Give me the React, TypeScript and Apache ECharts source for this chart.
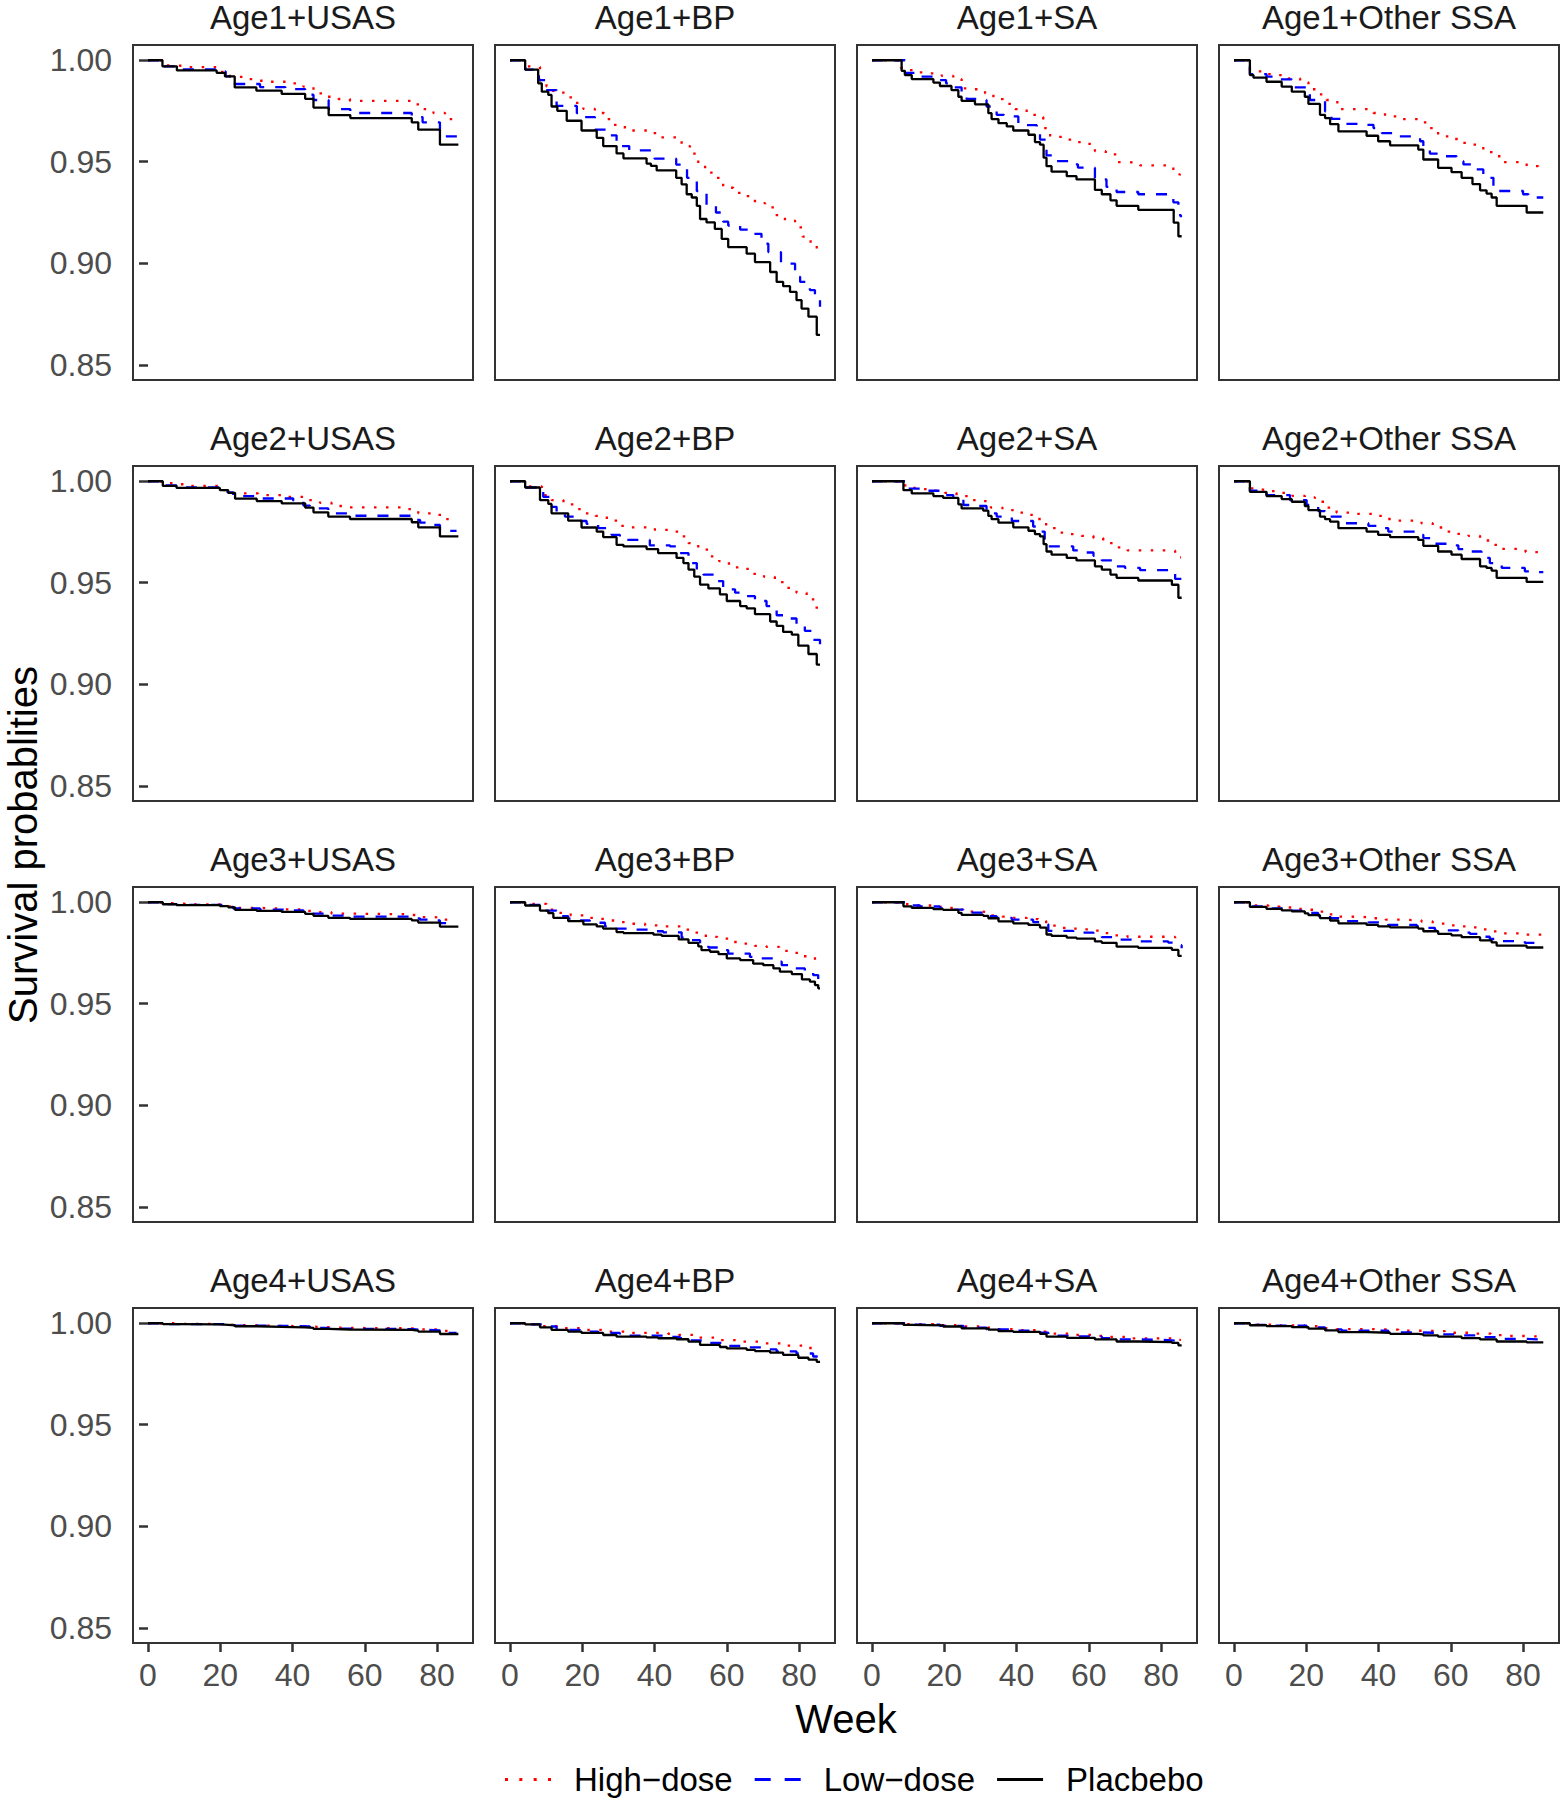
import React, { useEffect, useRef } from "react";
import * as echarts from "echarts";

type Pt = [number, number];

const ages = ["Age1", "Age2", "Age3", "Age4"];
const regions = ["USAS", "BP", "SA", "Other SSA"];
const treatments = ["High−dose", "Low−dose", "Placbebo"];
const weekTicks = [0, 20, 40, 60, 80];
const probTicks = [0.85, 0.9, 0.95, 1.0];

// ---------- Age1 ----------
const age1_USAS_high: Pt[] = [[0,1],[4,0.9975],[6.5,0.9972],[10.2,0.9966],[19.9,0.9943],[22.7,0.9918],[26.4,0.9907],[29.6,0.9899],[32.8,0.9894],[39.8,0.9886],[43,0.987],[45.8,0.9837],[49,0.982],[52.7,0.9809],[55.9,0.98],[73,0.9783],[76.2,0.9759],[79,0.974],[82.2,0.971],[85.5,0.971]];
const age1_USAS_low: Pt[] = [[0,1],[4,0.997],[8,0.9955],[19,0.9945],[21.5,0.992],[24,0.9883],[31,0.9868],[38,0.9858],[43.5,0.983],[45.8,0.9804],[50,0.9759],[56,0.974],[73,0.972],[76,0.9694],[80.8,0.9625],[85.5,0.9625]];
const age1_USAS_placebo: Pt[] = [[0,1],[4,0.997],[8,0.995],[19,0.9938],[21.3,0.992],[24,0.9866],[30,0.985],[37,0.9834],[43.5,0.981],[45.8,0.9767],[50,0.973],[56,0.9715],[73,0.9694],[74.8,0.9658],[80.8,0.9584],[85.9,0.9584]];

const age1_BP_high: Pt[] = [[0,1],[4.2,0.997],[6,0.9967],[8.3,0.99],[10.1,0.987],[12,0.984],[15.2,0.9817],[17.8,0.979],[20.3,0.976],[23.5,0.974],[26,0.971],[28.6,0.9682],[31.8,0.9654],[38.7,0.9641],[41.9,0.962],[47.5,0.9577],[49.8,0.954],[52.1,0.9487],[54,0.9446],[56.7,0.9421],[59,0.9372],[61.8,0.9347],[65,0.9331],[67.8,0.9296],[70.6,0.9275],[73.3,0.9237],[76.1,0.921],[78.9,0.9177],[81,0.9131],[83.2,0.9095],[84.9,0.9046],[85.5,0.9046]];
const age1_BP_low: Pt[] = [[0,1],[4.2,0.9954],[8,0.9902],[10,0.9853],[12.9,0.9775],[18.5,0.9739],[19.4,0.972],[23.5,0.9658],[27,0.963],[29.5,0.9577],[33,0.9556],[40,0.9515],[46,0.9486],[49,0.9421],[51.7,0.9356],[54.4,0.9286],[57,0.925],[59,0.9205],[60.4,0.9186],[63.7,0.9166],[65.9,0.9145],[69.6,0.9096],[71.5,0.9055],[75,0.8998],[78.9,0.8933],[80.3,0.8908],[83,0.8868],[84.4,0.8835],[85.8,0.8786]];
const age1_BP_placebo: Pt[] = [[0,1],[4.2,0.9954],[7.8,0.9886],[8.8,0.9845],[10.6,0.9829],[11.5,0.9772],[13.1,0.9751],[15.7,0.9702],[19.8,0.9654],[24,0.9618],[25.8,0.9577],[29.5,0.9541],[31.4,0.9517],[37.8,0.9491],[39,0.948],[40.6,0.9457],[46,0.9421],[47.5,0.9389],[48.9,0.934],[50.3,0.9324],[51.7,0.9283],[52.6,0.9218],[54.4,0.9201],[56.7,0.9169],[58.6,0.912],[60.4,0.9079],[65.5,0.9047],[67.8,0.9006],[72,0.8957],[73.8,0.8908],[75.6,0.8887],[77.5,0.8859],[79.3,0.8818],[80.7,0.8777],[82.6,0.8737],[84.9,0.8647],[85.8,0.8647]];

const age1_SA_high: Pt[] = [[0,1],[8,0.9962],[9.1,0.9951],[12.4,0.994],[16,0.9935],[19.3,0.9923],[22.5,0.9907],[24.8,0.9861],[28,0.9857],[31.3,0.9837],[33.6,0.9808],[36.3,0.9785],[39.6,0.9759],[42.8,0.9731],[45.8,0.972],[47.4,0.9666],[49.3,0.9622],[53,0.9609],[56.2,0.9597],[59.4,0.9588],[61.7,0.9552],[64.7,0.9536],[67.7,0.9498],[70.9,0.9495],[74.2,0.9482],[81.1,0.9482],[83.4,0.9438],[85.2,0.9392]];
const age1_SA_low: Pt[] = [[0,1],[9.1,0.9938],[12.4,0.9919],[18.8,0.9902],[20.5,0.9886],[22.5,0.9866],[24.8,0.9829],[26.2,0.9809],[29.9,0.9804],[31.7,0.9772],[34.5,0.9731],[36.5,0.9723],[40.5,0.969],[42,0.968],[45.6,0.9641],[46.5,0.9609],[48.3,0.9531],[50.2,0.9503],[55.7,0.9487],[57,0.9471],[61.7,0.9413],[64.9,0.9376],[67.7,0.9351],[73.7,0.934],[82.5,0.9335],[83.4,0.93],[84.8,0.9237],[85.5,0.9226]];
const age1_SA_placebo: Pt[] = [[0,1],[8.2,0.9948],[9.1,0.9927],[11,0.9907],[17,0.989],[18.8,0.9873],[22,0.9853],[23.9,0.982],[24.8,0.98],[28.5,0.9783],[32.2,0.9739],[33.1,0.971],[35,0.969],[37.3,0.9674],[39.1,0.9654],[43.3,0.9633],[45.1,0.9597],[46.5,0.9584],[47.5,0.952],[48.3,0.9478],[49.7,0.9451],[53.9,0.9429],[56.6,0.9413],[61.7,0.9361],[63.6,0.934],[66,0.931],[67.7,0.9283],[73.7,0.9263],[82,0.9263],[83.5,0.92],[84.8,0.9133],[85.7,0.9133]];

const age1_OSSA_high: Pt[] = [[0,1],[4.4,0.9945],[8.6,0.9932],[11.8,0.9927],[15,0.991],[18.3,0.9891],[20.6,0.9857],[23.3,0.9832],[25.6,0.9804],[28.6,0.9759],[38.6,0.974],[41.8,0.9723],[45,0.971],[51.5,0.9694],[53.8,0.9666],[56.5,0.9625],[59.8,0.9612],[63,0.9593],[66.2,0.9584],[69,0.9547],[71.8,0.9527],[74.5,0.9498],[81,0.9478],[84.2,0.947],[85.5,0.947]];
const age1_OSSA_low: Pt[] = [[0,1],[4.4,0.9932],[9,0.9919],[11.3,0.9906],[16,0.9866],[21,0.9804],[25.2,0.9747],[27,0.9711],[30.7,0.9687],[35,0.9682],[38.6,0.9666],[40.9,0.9641],[45.9,0.9625],[51.5,0.9601],[52.4,0.9576],[54.2,0.954],[57,0.9527],[61.6,0.9503],[63.5,0.9487],[66.2,0.9462],[69,0.9421],[71.8,0.9381],[73.2,0.9356],[80,0.934],[81.5,0.9324],[85.6,0.9324]];
const age1_OSSA_placebo: Pt[] = [[0,1],[4.4,0.9927],[5.4,0.9914],[9,0.9894],[13.2,0.987],[16,0.9845],[19.6,0.982],[20.6,0.9785],[23.8,0.9731],[25.2,0.9715],[26.6,0.9685],[28.9,0.965],[36.7,0.9628],[39.9,0.9601],[43.2,0.9581],[51,0.956],[52.4,0.9511],[56.5,0.947],[60.2,0.9449],[63,0.9421],[66,0.939],[68.1,0.9359],[69.9,0.9343],[71.3,0.9324],[72.7,0.9283],[81,0.925],[85.6,0.925]];

// ---------- Age2 ----------
const age2_USAS_high: Pt[] = [[0,1],[5,0.999],[7,0.9985],[10.2,0.9977],[19,0.9976],[20.4,0.9956],[23.6,0.994],[30.5,0.9932],[37.5,0.9923],[43.9,0.9907],[47.6,0.9894],[50.8,0.9878],[54.5,0.9871],[71.6,0.9863],[74.8,0.9842],[78.5,0.9834],[81.7,0.9813],[85,0.9809]];
const age2_USAS_low: Pt[] = [[0,1],[4.1,0.9979],[7.9,0.997],[22,0.9945],[23.6,0.9927],[31,0.9915],[40.2,0.9904],[43,0.988],[44.8,0.9866],[49.9,0.9842],[56.8,0.983],[73.4,0.9809],[75.3,0.9796],[78.5,0.9785],[80.8,0.9755],[85.4,0.9755]];
const age2_USAS_placebo: Pt[] = [[0,1],[4.1,0.9977],[7.9,0.9967],[19.9,0.9956],[22.2,0.9943],[24.1,0.9914],[30.1,0.9902],[37,0.9891],[43.5,0.987],[45.8,0.9847],[49.9,0.9826],[55.9,0.9814],[73,0.9798],[74.8,0.9773],[80.8,0.9728],[85.9,0.9728]];

const age2_BP_high: Pt[] = [[0,1],[4.2,0.9975],[8.8,0.9932],[11.5,0.9907],[14.8,0.9886],[17.8,0.9863],[20.8,0.9842],[23.7,0.9829],[26.8,0.9806],[30,0.978],[33.2,0.9773],[40.1,0.976],[43.8,0.9752],[46.8,0.9728],[49.4,0.9695],[52.1,0.9663],[55.4,0.963],[57.9,0.9606],[60.6,0.9576],[64.1,0.9568],[67.2,0.9544],[70.3,0.9529],[73.3,0.9503],[76.4,0.9475],[79.3,0.9451],[82.1,0.9418],[84.4,0.9377],[85.5,0.9377]];
const age2_BP_low: Pt[] = [[0,1],[4.2,0.9969],[9.2,0.9923],[11.5,0.9874],[12.9,0.9842],[15.2,0.9826],[19.4,0.9804],[21.2,0.979],[24.4,0.9769],[28.1,0.9736],[30.4,0.9711],[38.7,0.9684],[44.3,0.9679],[47,0.9646],[49.4,0.9597],[51.7,0.9565],[53.5,0.954],[56.7,0.9508],[59,0.9467],[62.3,0.9451],[65,0.9434],[67.8,0.941],[71,0.9385],[73.8,0.934],[76.6,0.9324],[79.3,0.9288],[81.6,0.9263],[83.9,0.9219],[85.8,0.9182]];
const age2_BP_placebo: Pt[] = [[0,1],[4.2,0.9969],[8.3,0.9907],[10.6,0.9888],[11.5,0.9842],[16.1,0.9806],[19.8,0.9772],[24,0.9752],[25.8,0.9725],[29.5,0.9687],[31.4,0.9679],[37.8,0.9666],[41,0.9646],[46.1,0.9622],[48,0.9597],[49.4,0.9565],[51,0.953],[52.6,0.9491],[54.9,0.9472],[58.1,0.9443],[60,0.941],[63.7,0.9385],[65.5,0.9374],[67.8,0.9345],[72,0.9309],[73.8,0.9288],[75.6,0.9258],[78,0.9244],[79.8,0.919],[82.6,0.9149],[84.9,0.9097],[85.8,0.9097]];

const age2_SA_high: Pt[] = [[0,1],[8,0.998],[10.1,0.9967],[13.3,0.9961],[17,0.9953],[20.2,0.9943],[23.4,0.9927],[26.7,0.9907],[30.1,0.9902],[32.9,0.987],[36.1,0.9858],[39.3,0.9845],[42.8,0.9834],[46,0.9814],[48.2,0.9769],[51.1,0.9747],[54.6,0.9739],[58,0.9731],[61.3,0.972],[64,0.9695],[67.3,0.9674],[70.7,0.9659],[81.1,0.9658],[83.9,0.9625],[85.5,0.9625]];
const age2_SA_low: Pt[] = [[0,1],[9.6,0.9964],[13.3,0.9953],[18.8,0.9932],[22.5,0.9918],[25.3,0.9883],[28,0.9878],[31.7,0.9842],[34.5,0.9826],[38.7,0.9804],[44.6,0.9777],[46.5,0.9752],[47.8,0.971],[48.8,0.9679],[55.7,0.9659],[57.6,0.9649],[61.3,0.9633],[63.6,0.961],[67.3,0.9581],[70,0.9573],[74.2,0.9562],[82,0.9548],[83.9,0.9519],[85.7,0.9483]];
const age2_SA_placebo: Pt[] = [[0,1],[8.7,0.9956],[11,0.994],[17,0.9927],[19.7,0.9918],[23.9,0.9886],[24.8,0.9866],[30.8,0.9855],[32.2,0.9829],[33.1,0.9813],[35,0.9796],[39.1,0.9773],[43.3,0.9756],[45.1,0.9739],[46.5,0.9728],[47.5,0.969],[48.3,0.9654],[49.7,0.9638],[53.9,0.9622],[56.6,0.961],[61.7,0.9581],[63.6,0.9565],[66,0.954],[67.7,0.9524],[73.7,0.9511],[83,0.949],[84.8,0.9426],[85.7,0.9426]];

const age2_OSSA_high: Pt[] = [[0,1],[4.4,0.9965],[6.3,0.9959],[9.5,0.9951],[12.7,0.9943],[16.2,0.9928],[19.6,0.992],[22.4,0.9899],[25.5,0.987],[28.4,0.9845],[31.9,0.9839],[38.6,0.9829],[42,0.9814],[45.5,0.9806],[51.9,0.9793],[55,0.9772],[58.4,0.9752],[61.6,0.9741],[64.9,0.9731],[68.1,0.9708],[71.1,0.9687],[74.1,0.9667],[77.3,0.9666],[80.7,0.9651],[85.2,0.9651]];
const age2_OSSA_low: Pt[] = [[0,1],[4.4,0.9953],[9,0.9932],[15.5,0.9907],[20.1,0.9883],[23.3,0.9853],[25.2,0.9834],[26.6,0.9826],[29.8,0.9793],[37.2,0.978],[39.5,0.9769],[42.7,0.9752],[50.6,0.9736],[52.4,0.972],[55.6,0.9692],[58.9,0.9684],[62.1,0.9666],[65.3,0.9654],[68.5,0.9622],[70.8,0.9597],[74.1,0.9573],[80.5,0.9556],[83.8,0.9552],[85.6,0.9552]];
const age2_OSSA_placebo: Pt[] = [[0,1],[4.4,0.9948],[9,0.9927],[13.2,0.9912],[16,0.9899],[19.6,0.9878],[20.6,0.9858],[23.8,0.9826],[25.2,0.9813],[26.6,0.9801],[28.9,0.9769],[36.7,0.9752],[39.9,0.9736],[43.2,0.9725],[51,0.9711],[52.4,0.9682],[56.5,0.9654],[60.2,0.9638],[63,0.9617],[68.1,0.9581],[69.9,0.9573],[71.3,0.956],[72.7,0.9524],[81,0.9504],[85.6,0.9504]];

// ---------- Age3 ----------
const age3_USAS_high: Pt[] = [[0,1],[5,0.9995],[7,0.9993],[10.2,0.9989],[20.4,0.998],[23.6,0.9972],[30.5,0.9969],[37.5,0.9965],[43.9,0.9957],[47.6,0.9951],[50.8,0.9944],[54.5,0.9941],[71.6,0.9937],[74.8,0.9927],[78.5,0.9924],[81.7,0.9914],[85,0.9912]];
const age3_USAS_low: Pt[] = [[0,1],[4.1,0.9991],[7.9,0.9987],[22,0.9977],[23.6,0.9969],[31,0.9964],[40.2,0.996],[43,0.995],[44.8,0.9944],[49.9,0.9934],[56.8,0.9929],[73.4,0.992],[75.3,0.9914],[78.5,0.991],[80.8,0.9897],[85.4,0.9897]];
const age3_USAS_placebo: Pt[] = [[0,1],[4.1,0.999],[7.9,0.9986],[19.9,0.9981],[22.2,0.9975],[24.1,0.9962],[30.1,0.9957],[37,0.9952],[43.5,0.9943],[45.8,0.9933],[49.9,0.9923],[55.9,0.9918],[73,0.9911],[74.8,0.99],[80.8,0.988],[85.9,0.988]];

const age3_BP_high: Pt[] = [[0,1],[4.2,0.9992],[10.1,0.9964],[13.5,0.9948],[16.8,0.9935],[20.3,0.9923],[23.7,0.9918],[27.2,0.991],[30.4,0.9902],[33.8,0.9894],[37.4,0.9886],[40.8,0.9881],[47.5,0.9865],[50.7,0.985],[54.2,0.9829],[57.4,0.9821],[60.9,0.9804],[64.4,0.9796],[67.8,0.9785],[71,0.978],[74.5,0.976],[77.8,0.9751],[81.2,0.9734],[84.4,0.9715],[85.3,0.9715]];
const age3_BP_low: Pt[] = [[0,1],[4.2,0.9987],[9.2,0.9959],[12.9,0.9932],[16.1,0.9919],[19.4,0.991],[22.1,0.9899],[26.3,0.9881],[29.5,0.987],[32.7,0.9865],[38.7,0.9857],[42.4,0.9852],[47.5,0.9826],[49.8,0.9813],[52.6,0.9788],[54.9,0.9777],[58.6,0.9764],[60.4,0.9747],[66.4,0.9731],[69.6,0.9723],[72.9,0.9707],[75.2,0.969],[78.9,0.9674],[81.6,0.9658],[83.9,0.9641],[85.3,0.962]];
const age3_BP_placebo: Pt[] = [[0,1],[4.2,0.9984],[8.3,0.9959],[10.6,0.9946],[12,0.9923],[16.1,0.9907],[20.3,0.9891],[24,0.9881],[25.8,0.987],[29.5,0.9853],[31.4,0.9848],[39.7,0.984],[42,0.9834],[46.7,0.9817],[49.4,0.98],[52.1,0.9783],[53,0.9764],[55.4,0.9756],[57.7,0.9744],[60,0.9723],[63.7,0.9715],[67.3,0.9698],[70.1,0.969],[72.9,0.9674],[74.7,0.9658],[78,0.9646],[80.8,0.962],[83,0.9609],[84.4,0.9592],[85.3,0.9576],[85.8,0.9576]];

const age3_SA_high: Pt[] = [[0,1],[8,0.999],[10.1,0.9984],[17,0.9977],[20.2,0.9972],[23.4,0.9964],[26.7,0.9954],[30.1,0.9951],[32.9,0.9935],[36.1,0.9929],[39.3,0.9923],[42.8,0.9917],[46,0.9907],[48.2,0.9885],[51.1,0.9874],[54.6,0.987],[58,0.9866],[61.3,0.986],[64,0.9848],[67.3,0.9837],[70.7,0.983],[81.1,0.9829],[83.9,0.9813],[85.5,0.9813]];
const age3_SA_low: Pt[] = [[0,1],[9.6,0.9984],[13.3,0.9979],[18.8,0.997],[22.5,0.9964],[25.3,0.9949],[31.7,0.9931],[34.5,0.9923],[38.7,0.9914],[44.6,0.9902],[46.5,0.9891],[48.8,0.9859],[55.7,0.985],[61.3,0.9839],[63.6,0.9828],[67.3,0.9816],[74.2,0.9807],[82,0.9801],[83.9,0.9788],[85.7,0.9773]];
const age3_SA_placebo: Pt[] = [[0,1],[8.7,0.998],[11,0.9972],[17,0.9966],[19.7,0.9962],[23.9,0.9948],[24.8,0.9938],[30.8,0.9933],[32.2,0.9921],[35,0.9906],[39.1,0.9896],[43.3,0.9888],[46.5,0.9875],[48.3,0.9841],[49.7,0.9834],[53.9,0.9826],[56.6,0.9821],[61.7,0.9807],[63.6,0.98],[67.7,0.9781],[73.7,0.9775],[83,0.9765],[84.8,0.9736],[85.7,0.9736]];

const age3_OSSA_high: Pt[] = [[0,1],[4.4,0.9984],[9.5,0.9978],[12.7,0.9974],[16.2,0.9967],[19.6,0.9963],[22.4,0.9954],[25.5,0.994],[28.4,0.9929],[31.9,0.9926],[38.6,0.9921],[42,0.9914],[45.5,0.9911],[51.9,0.9905],[55,0.9895],[58.4,0.9886],[61.6,0.9881],[64.9,0.9876],[68.1,0.9866],[71.1,0.9856],[74.1,0.9847],[80.7,0.984],[85.2,0.984]];
const age3_OSSA_low: Pt[] = [[0,1],[4.4,0.9979],[9,0.9969],[15.5,0.9958],[20.1,0.9947],[23.3,0.9934],[26.6,0.9922],[29.8,0.9907],[37.2,0.9901],[42.7,0.9888],[50.6,0.9881],[52.4,0.9874],[55.6,0.9861],[62.1,0.985],[65.3,0.9844],[68.5,0.983],[70.8,0.9819],[74.1,0.9808],[80.5,0.98],[85.6,0.9798]];
const age3_OSSA_placebo: Pt[] = [[0,1],[4.4,0.9977],[9,0.9967],[13.2,0.996],[16,0.9955],[19.6,0.9945],[20.6,0.9936],[23.8,0.9922],[26.6,0.991],[28.9,0.9896],[36.7,0.9888],[39.9,0.9881],[43.2,0.9876],[51,0.987],[52.4,0.9857],[56.5,0.9844],[60.2,0.9837],[63,0.9828],[68.1,0.9812],[71.3,0.9802],[72.7,0.9786],[81,0.9777],[85.6,0.9777]];

// ---------- Age4 ----------
const age4_USAS_high: Pt[] = [[0,1],[7,0.9997],[10.2,0.9996],[20.4,0.9992],[23.6,0.9989],[30.5,0.9987],[37.5,0.9985],[43.9,0.9982],[47.6,0.998],[50.8,0.9977],[54.5,0.9975],[71.6,0.9974],[74.8,0.997],[78.5,0.9968],[81.7,0.9962],[85,0.996]];
const age4_USAS_low: Pt[] = [[0,1],[4.1,0.9996],[23.6,0.9988],[31,0.9986],[40.2,0.9984],[44.8,0.9977],[49.9,0.9973],[56.8,0.9971],[73.4,0.9968],[75.3,0.9965],[80.8,0.9952],[85.4,0.9952]];
const age4_USAS_placebo: Pt[] = [[0,1],[4.1,0.9996],[7.9,0.9994],[19.9,0.9992],[22.2,0.999],[24.1,0.9985],[30.1,0.9982],[37,0.998],[43.5,0.9977],[45.8,0.9972],[49.9,0.9969],[55.9,0.9967],[73,0.9964],[74.8,0.9959],[80.8,0.9947],[85.9,0.9947]];

const age4_BP_high: Pt[] = [[0,1],[4.2,0.9995],[8.8,0.9986],[14.8,0.9976],[20.8,0.9967],[26.8,0.9959],[33.2,0.9952],[43.8,0.9948],[46.8,0.9943],[52.1,0.9929],[57.9,0.9917],[64.1,0.9909],[70.3,0.9901],[76.4,0.989],[82.1,0.9878],[84.4,0.9869],[85.3,0.9869]];
const age4_BP_low: Pt[] = [[0,1],[4.2,0.9994],[9.2,0.9984],[12.9,0.9967],[19.4,0.9959],[24.4,0.9952],[30.4,0.9939],[44.3,0.9933],[47,0.9926],[49.4,0.9915],[53.5,0.9903],[59,0.9888],[65,0.9881],[71,0.9871],[73.8,0.9861],[79.3,0.9851],[83.9,0.9836],[85.8,0.9828]];
const age4_BP_placebo: Pt[] = [[0,1],[4.2,0.9994],[8.3,0.998],[11.5,0.9967],[16.1,0.9959],[19.8,0.9952],[25.8,0.9942],[29.5,0.9934],[37.8,0.993],[41,0.9926],[46.1,0.9921],[49.4,0.9909],[52.6,0.9893],[58.1,0.9883],[60,0.9876],[65.5,0.9869],[67.8,0.9863],[72,0.9855],[75.6,0.9844],[79.8,0.983],[82.6,0.9821],[84.9,0.981],[85.8,0.981]];

const age4_SA_high: Pt[] = [[0,1],[8,0.9996],[17,0.999],[23.4,0.9984],[30.1,0.9978],[32.9,0.9971],[39.3,0.9966],[46,0.9959],[48.2,0.9949],[54.6,0.9943],[61.3,0.9938],[64,0.9933],[70.7,0.9925],[81.1,0.9925],[83.9,0.9918],[85.5,0.9918]];
const age4_SA_low: Pt[] = [[0,1],[9.6,0.9993],[18.8,0.9987],[25.3,0.9978],[31.7,0.997],[38.7,0.9963],[46.5,0.9953],[48.8,0.9939],[55.7,0.9935],[63.6,0.9926],[67.3,0.992],[74.2,0.9917],[82,0.9914],[83.9,0.9909],[85.7,0.9902]];
const age4_SA_placebo: Pt[] = [[0,1],[8.7,0.9992],[11,0.9989],[19.7,0.9984],[24.8,0.9975],[32.2,0.9968],[35,0.9961],[39.1,0.9957],[46.5,0.9948],[48.3,0.9934],[53.9,0.9928],[61.7,0.992],[67.7,0.991],[73.7,0.9907],[83,0.9903],[84.8,0.9891],[85.7,0.9891]];

const age4_OSSA_high: Pt[] = [[0,1],[4.4,0.9993],[12.7,0.9989],[19.6,0.9985],[25.5,0.9975],[28.4,0.9971],[38.6,0.9968],[45.5,0.9963],[51.9,0.9961],[58.4,0.9953],[64.9,0.9949],[71.1,0.9941],[74.1,0.9937],[80.7,0.9934],[85.2,0.9934]];
const age4_OSSA_low: Pt[] = [[0,1],[4.4,0.9992],[9,0.9988],[20.1,0.9979],[25.2,0.997],[29.8,0.9963],[42.7,0.9955],[50.6,0.9953],[55.6,0.9945],[62.1,0.994],[68.5,0.9932],[74.1,0.9923],[80.5,0.992],[85.6,0.9919]];
const age4_OSSA_placebo: Pt[] = [[0,1],[4.4,0.999],[9,0.9986],[16,0.9981],[20.6,0.9973],[25.2,0.9965],[28.9,0.9956],[36.7,0.9953],[43.2,0.9948],[51,0.9945],[52.4,0.994],[56.5,0.9934],[63,0.9927],[68.1,0.992],[72.7,0.991],[81,0.9906],[85.6,0.9906]];

const panelData: Pt[][][] = [
  [age1_USAS_high, age1_USAS_low, age1_USAS_placebo],
  [age1_BP_high, age1_BP_low, age1_BP_placebo],
  [age1_SA_high, age1_SA_low, age1_SA_placebo],
  [age1_OSSA_high, age1_OSSA_low, age1_OSSA_placebo],
  [age2_USAS_high, age2_USAS_low, age2_USAS_placebo],
  [age2_BP_high, age2_BP_low, age2_BP_placebo],
  [age2_SA_high, age2_SA_low, age2_SA_placebo],
  [age2_OSSA_high, age2_OSSA_low, age2_OSSA_placebo],
  [age3_USAS_high, age3_USAS_low, age3_USAS_placebo],
  [age3_BP_high, age3_BP_low, age3_BP_placebo],
  [age3_SA_high, age3_SA_low, age3_SA_placebo],
  [age3_OSSA_high, age3_OSSA_low, age3_OSSA_placebo],
  [age4_USAS_high, age4_USAS_low, age4_USAS_placebo],
  [age4_BP_high, age4_BP_low, age4_BP_placebo],
  [age4_SA_high, age4_SA_low, age4_SA_placebo],
  [age4_OSSA_high, age4_OSSA_low, age4_OSSA_placebo],
];

const FONT = "'Liberation Sans', Arial, Helvetica, sans-serif";
const lineStyles = [
  { color: "#FF0000", type: [2.5, 9.5] as number[] },
  { color: "#0000FF", type: [11, 11] as number[] },
  { color: "#000000", type: "solid" as any },
];
const legendIcons = [
  "path://M0,0h3v3h-3zM14.33,0h3v3h-3zM28.67,0h3v3h-3zM43,0h3v3h-3z",
  "path://M0,0h16v3h-16zM30,0h16v3h-16z",
  "path://M0,0h46v3h-46z",
];

function buildOption() {
  const grids: any[] = [];
  const xAxes: any[] = [];
  const yAxes: any[] = [];
  const series: any[] = [];
  const graphics: any[] = [];
  const L0 = 133, T0 = 45, W = 340, H = 335, DX = 362, DY = 421;

  for (let r = 0; r < 4; r++) {
    for (let c = 0; c < 4; c++) {
      const i = r * 4 + c;
      const left = L0 + c * DX;
      const top = T0 + r * DY;
      grids.push({
        left, top, width: W, height: H, show: true,
        borderColor: "#333333", borderWidth: 2, backgroundColor: "#ffffff", containLabel: false,
      });
      const isBottom = r === 3;
      const isLeft = c === 0;
      xAxes.push({
        type: "value", gridIndex: i, min: -4.15, max: 89.95,
        axisLine: { show: false }, splitLine: { show: false },
        axisTick: { show: isBottom, inside: false, customValues: weekTicks, length: 9, lineStyle: { color: "#333333", width: 2.5 } },
        axisLabel: { show: isBottom, customValues: weekTicks, fontSize: 32, color: "#4D4D4D", fontFamily: FONT, margin: 16 },
      });
      yAxes.push({
        type: "value", gridIndex: i, min: 0.8425, max: 1.0075,
        axisLine: { show: false }, splitLine: { show: false },
        axisTick: { show: isLeft, inside: false, customValues: probTicks, length: 9, lineStyle: { color: "#333333", width: 2.5 } },
        axisLabel: {
          show: isLeft, customValues: probTicks, fontSize: 32, color: "#4D4D4D", fontFamily: FONT, margin: 21,
          formatter: (v: number) => v.toFixed(2),
        },
      });
      for (let s = 0; s < 3; s++) {
        series.push({
          type: "line", name: treatments[s], xAxisIndex: i, yAxisIndex: i,
          data: panelData[i][s], step: "end", symbol: "none", showSymbol: false, silent: true,
          lineStyle: { color: lineStyles[s].color, width: 2.3, type: lineStyles[s].type },
          itemStyle: { color: lineStyles[s].color },
        });
      }
      graphics.push({
        type: "text", x: left + W / 2, y: 17 + r * DY,
        style: { text: `${ages[r]}+${regions[c]}`, fontSize: 33, fontFamily: FONT, fill: "#1A1A1A", align: "center", verticalAlign: "middle" },
      });
    }
  }
  graphics.push({
    type: "text", x: 846, y: 1719,
    style: { text: "Week", fontSize: 40, fontFamily: FONT, fill: "#000000", align: "center", verticalAlign: "middle" },
  });
  graphics.push({
    type: "text", x: 23, y: 845, rotation: Math.PI / 2,
    style: { text: "Survival probablities", fontSize: 40, fontFamily: FONT, fill: "#000000", align: "center", verticalAlign: "middle" },
  });

  return {
    animation: false,
    backgroundColor: "#ffffff",
    textStyle: { fontFamily: FONT },
    grid: grids,
    xAxis: xAxes,
    yAxis: yAxes,
    series,
    legend: {
      data: treatments.map((name, k) => ({ name, icon: legendIcons[k] })),
      left: 505, top: 1763, orient: "horizontal", padding: 0,
      itemWidth: 46, itemHeight: 3, itemGap: 22, selectedMode: false,
      itemStyle: { borderWidth: 0 },
      textStyle: { fontSize: 33, fontFamily: FONT, color: "#000000", padding: [0, 0, 0, 18] },
    },
    graphic: graphics,
  };
}

export default function App() {
  const ref = useRef<HTMLDivElement>(null);
  useEffect(() => {
    const chart = echarts.init(ref.current!, undefined, { renderer: "svg", width: 1560, height: 1800 });
    chart.setOption(buildOption() as any);
    return () => chart.dispose();
  }, []);
  return (
    <div
      ref={ref}
      style={{ position: "absolute", left: 0, top: 0, width: 1560, height: 1800, background: "#ffffff" }}
    />
  );
}
